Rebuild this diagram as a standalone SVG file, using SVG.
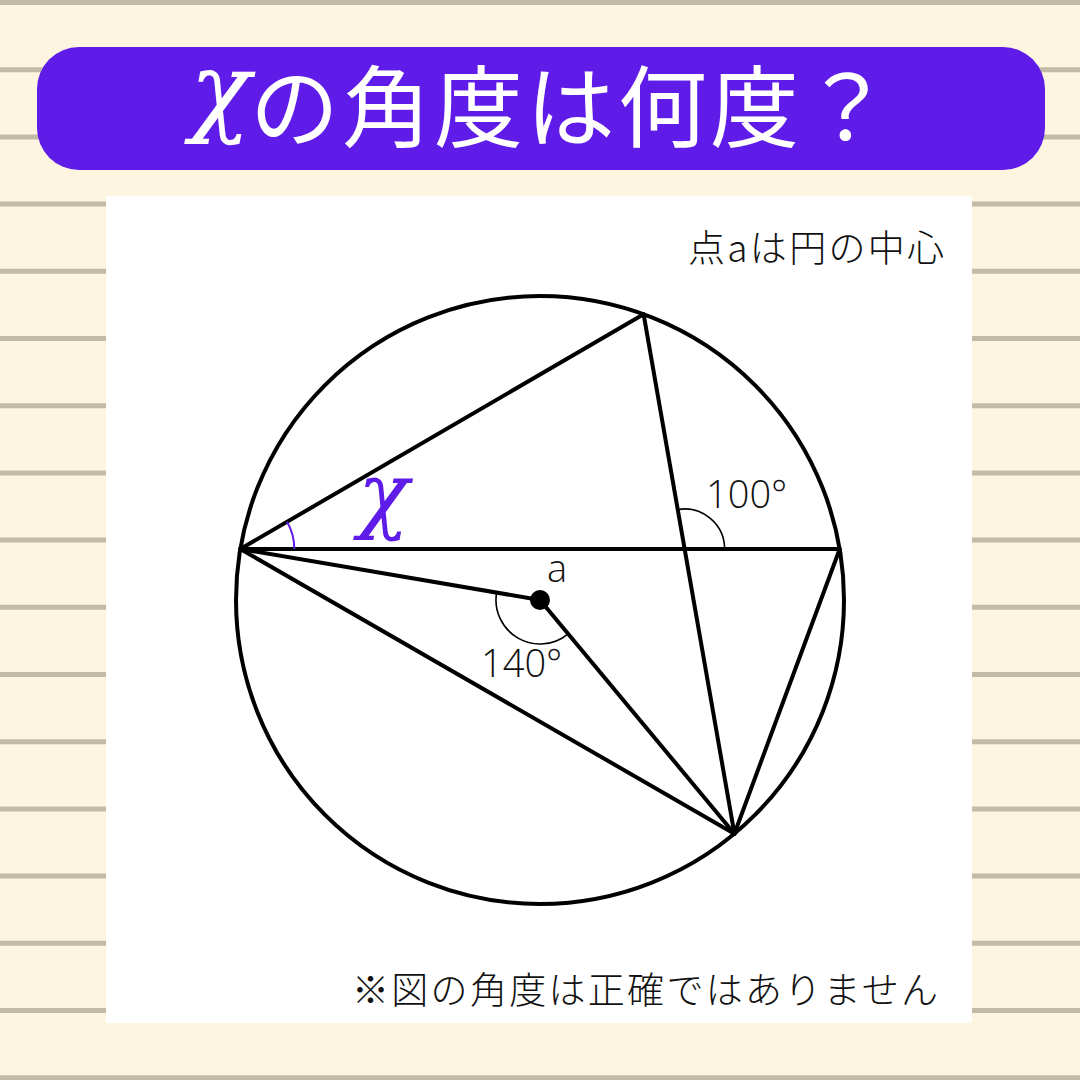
<svg xmlns="http://www.w3.org/2000/svg" width="1080" height="1080" viewBox="0 0 1080 1080">
<style>
.bgline{stroke:#c4bba7;stroke-width:5}
.edge{stroke:#000;stroke-width:4;fill:none;stroke-linecap:round}
.arc{stroke:#000;stroke-width:1.6;fill:none}
.num{font-family:"Open Sans","Liberation Sans",sans-serif;font-weight:300;font-size:38px;fill:#111}
.jp{font-family:"Noto Sans CJK JP","Noto Sans",sans-serif;font-weight:300;font-size:37px;letter-spacing:2.3px;fill:#111}
.title{font-family:"Noto Sans CJK JP","Noto Sans",sans-serif;font-weight:400;font-size:89px;letter-spacing:3px;fill:#fff}
.chi{font-family:"DejaVu Serif","Liberation Serif",serif;font-style:italic}
</style>
<rect x="0" y="0" width="1080" height="1080" fill="#fef5e0"/>
<g id="background-lines">
<line class="bgline" x1="0" y1="2.5" x2="1080" y2="2.5"/>
<line class="bgline" x1="0" y1="69.7" x2="1080" y2="69.7"/>
<line class="bgline" x1="0" y1="136.9" x2="1080" y2="136.9"/>
<line class="bgline" x1="0" y1="204.1" x2="1080" y2="204.1"/>
<line class="bgline" x1="0" y1="271.3" x2="1080" y2="271.3"/>
<line class="bgline" x1="0" y1="338.5" x2="1080" y2="338.5"/>
<line class="bgline" x1="0" y1="405.7" x2="1080" y2="405.7"/>
<line class="bgline" x1="0" y1="472.9" x2="1080" y2="472.9"/>
<line class="bgline" x1="0" y1="540.1" x2="1080" y2="540.1"/>
<line class="bgline" x1="0" y1="607.3" x2="1080" y2="607.3"/>
<line class="bgline" x1="0" y1="674.5" x2="1080" y2="674.5"/>
<line class="bgline" x1="0" y1="741.7" x2="1080" y2="741.7"/>
<line class="bgline" x1="0" y1="808.9" x2="1080" y2="808.9"/>
<line class="bgline" x1="0" y1="876.1" x2="1080" y2="876.1"/>
<line class="bgline" x1="0" y1="943.3" x2="1080" y2="943.3"/>
<line class="bgline" x1="0" y1="1010.5" x2="1080" y2="1010.5"/>
<line class="bgline" x1="0" y1="1077.7" x2="1080" y2="1077.7"/>
</g>
<g id="title">
<rect x="37" y="47" width="1008" height="123" rx="42" fill="#5f1be8"/>
<text x="190" y="140" class="title"><tspan class="chi" font-size="100" y="123">χ</tspan><tspan x="250" y="140">の角度は何度？</tspan></text>
</g>
<rect id="panel" x="106" y="196" width="866" height="827" fill="#fff"/>
<text id="note-top" x="688" y="262" class="jp">点aは円の中心</text>
<text id="note-bottom" x="352" y="1004" class="jp">※図の角度は正確ではありません</text>
<g id="circle-node">
<circle cx="540" cy="600" r="304" class="edge"/>
</g>
<g id="connectors">
<line class="edge" x1="240.3" y1="549" x2="643.6" y2="314.2"/>
<line class="edge" x1="240.3" y1="549" x2="839.7" y2="549"/>
<line class="edge" x1="240.3" y1="549" x2="540" y2="600"/>
<line class="edge" x1="240.3" y1="549" x2="734.4" y2="833.7"/>
<line class="edge" x1="540" y1="600" x2="734.4" y2="833.7"/>
<line class="edge" x1="643.6" y1="314.2" x2="734.4" y2="833.7"/>
<line class="edge" x1="839.7" y1="549" x2="734.4" y2="833.7"/>
</g>
<g id="center-a">
<circle cx="540" cy="600" r="10" fill="#000"/>
<text x="547" y="582" class="num">a</text>
</g>
<g id="angle-x">
<path d="M294.3 549 A54 54 0 0 0 287 521.8" fill="none" stroke="#5f1be8" stroke-width="2"/>
<text x="358" y="522" class="chi" font-size="84" fill="#5f1be8">χ</text>
</g>
<g id="angle-140">
<path class="arc" d="M568.1 633.8 A44 44 0 0 1 496.6 592.6"/>
<text x="481" y="677" class="num">140°</text>
</g>
<g id="angle-100">
<path class="arc" d="M677.7 509.6 A40 40 0 0 1 724.6 549"/>
<text x="706" y="508" class="num">100°</text>
</g>
</svg>
